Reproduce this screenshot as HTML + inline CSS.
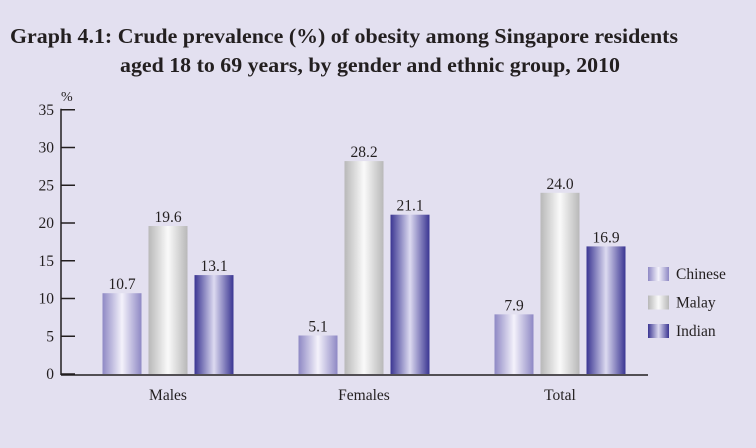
<!DOCTYPE html>
<html><head><meta charset="utf-8"><style>
body{margin:0;background:#e3e0f0;}
svg{display:block;font-family:"Liberation Serif",serif;}
</style></head><body>
<svg width="756" height="448">
<defs>
<linearGradient id="gC" x1="0" x2="1"><stop offset="0" stop-color="#8e88c4"/><stop offset="0.5" stop-color="#f4f2fb"/><stop offset="1" stop-color="#8e88c4"/></linearGradient>
<linearGradient id="gM" x1="0" x2="1"><stop offset="0" stop-color="#b8b8b8"/><stop offset="0.5" stop-color="#fafafa"/><stop offset="1" stop-color="#b8b8b8"/></linearGradient>
<linearGradient id="gI" x1="0" x2="1"><stop offset="0" stop-color="#3a3592"/><stop offset="0.5" stop-color="#dcdaf0"/><stop offset="1" stop-color="#3a3592"/></linearGradient>
</defs>
<rect width="756" height="448" fill="#e3e0f0"/>
<text x="10" y="43" font-size="21" font-weight="bold" fill="#231f20" textLength="668" lengthAdjust="spacingAndGlyphs">Graph 4.1:  Crude prevalence (%) of obesity among Singapore residents</text>
<text x="120" y="72" font-size="21" font-weight="bold" fill="#231f20" textLength="500" lengthAdjust="spacingAndGlyphs">aged 18 to 69 years, by gender and ethnic group, 2010</text>
<text x="61" y="101" font-size="14" fill="#231f20">%</text>
<g id="axes"></g>
<g id="bars"></g>
<g id="legend"></g>
</svg>
<script>
const categories=["Males","Females","Total"];
const series=["Chinese","Malay","Indian"];
const chinese=[10.7,5.1,7.9];
const malay=[19.6,28.2,24.0];
const indian=[13.1,21.1,16.9];
const ticks=[0,5,10,15,20,25,30,35];
const NS="http://www.w3.org/2000/svg";
const y0=374,pxPer=7.55;
const y=v=>y0-v*pxPer;
const centers=[168,364,560],bw=39,gap=46;
function mk(tag,attrs,parent,txt){const e=document.createElementNS(NS,tag);for(const k in attrs)e.setAttribute(k,attrs[k]);if(txt!==undefined)e.textContent=txt;parent.appendChild(e);return e;}
const ax=document.getElementById('axes');
let e=mk('line',{x1:61,x2:61,y1:y(35)-1,y2:375,stroke:'#231f20','stroke-width':1.5},ax);


e=mk('line',{x1:61,x2:648,y1:375,y2:375,stroke:'#231f20','stroke-width':1.5},ax);


ticks.forEach(t=>{
 e=mk('line',{x1:61,x2:75,y1:y(t),y2:y(t),stroke:'#231f20','stroke-width':1.5},ax);
 
 
 e=mk('text',{x:54,y:y(t)+5,'font-size':15.5,'text-anchor':'end',fill:'#231f20'},ax,String(t));
 
 
});
categories.forEach((c,i)=>{
 e=mk('text',{x:centers[i],y:400,'font-size':15.5,'text-anchor':'middle',fill:'#231f20'},ax,c);
 
 
});
const bg=document.getElementById('bars');
const data=[chinese,malay,indian],fills=['url(#gC)','url(#gM)','url(#gI)'];
data.forEach((arr,s)=>arr.forEach((v,i)=>{
 const x=centers[i]+(s-1)*gap-bw/2;
 e=mk('rect',{x:x,y:y(v),width:bw,height:y0-y(v),fill:fills[s]},bg);
 
 
 e=mk('text',{x:x+bw/2,y:y(v)-4,'font-size':15.5,'text-anchor':'middle',fill:'#231f20'},bg,v.toFixed(1));
 
 
}));
const lg=document.getElementById('legend');
series.forEach((s,i)=>{
 const cy=274+i*28.5;
 e=mk('rect',{x:648,y:cy-7,width:21,height:14,fill:fills[i]},lg);
 
 
 e=mk('text',{x:676,y:cy+5,'font-size':15.5,fill:'#231f20'},lg,s);
 
 
});
</script>
</body></html>
